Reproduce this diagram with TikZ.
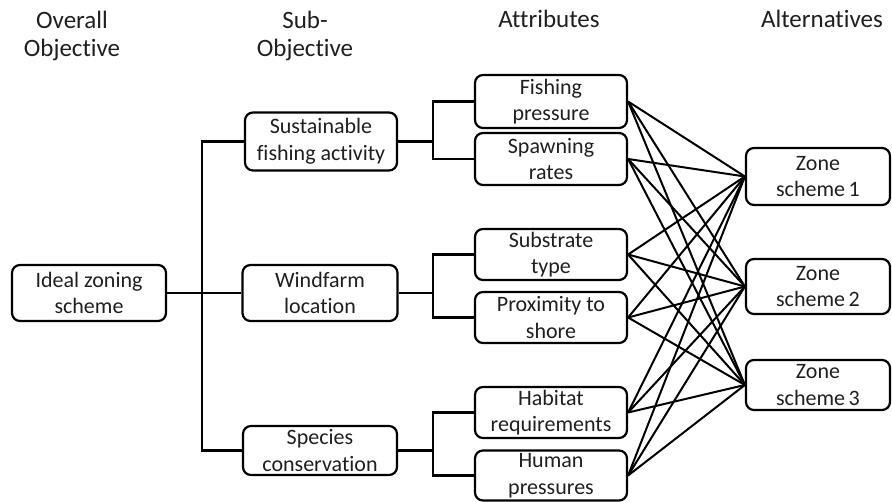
\documentclass[tikz,border=0pt]{standalone}
\usepackage{fontspec}
\setmainfont{Carlito}[Ligatures=NoCommon]
\begin{document}
\begin{tikzpicture}[x=1pt,y=-1pt,
  box/.style={draw=black,line width=2.2pt,rounded corners=8pt,align=center,
    font=\fontsize{22}{26.5}\selectfont,text=black!88,inner sep=0pt},
  head/.style={align=center,font=\fontsize{25}{28}\selectfont,text=black!88,anchor=base},
  link/.style={line width=2.2pt,black},
  fan/.style={line width=2pt,black}]
\useasboundingbox (0,0) rectangle (892,502);
% headers
\node[head] (h1) at (72,57) {Overall\\Objective};
\node[head] (h2) at (305,57) {Sub-\\Objective};
\node[head] (h3) at (549,28) {Attributes};
\node[head] (h4) at (822,28) {Alternatives};
% boxes
\node[box,minimum width=154pt,minimum height=56pt] (ideal) at (89,293) {Ideal zoning\\scheme};
\node[box,minimum width=152pt,minimum height=58pt] (sus) at (321,141.5) {Sustainable\\fishing activity};
\node[box,minimum width=155pt,minimum height=56pt] (wind) at (320,293) {Windfarm\\location};
\node[box,minimum width=154pt,minimum height=49pt] (spec) at (320,450.5) {Species\\conservation};
\node[box,minimum width=152pt,minimum height=53pt] (fish) at (551,101.5) {Fishing\\pressure};
\node[box,minimum width=152pt,minimum height=52pt] (spawn) at (551,159) {Spawning\\rates};
\node[box,minimum width=152pt,minimum height=51pt] (subs) at (551,254.5) {Substrate\\type};
\node[box,minimum width=152pt,minimum height=51pt] (prox) at (551,317.5) {Proximity to\\shore};
\node[box,minimum width=152pt,minimum height=51pt] (hab) at (551,412.5) {Habitat\\requirements};
\node[box,minimum width=152pt,minimum height=50pt] (hum) at (551,475.5) {Human\\pressures};
\node[box,minimum width=144pt,minimum height=57pt] (z1) at (818,176.5) {Zone\\scheme\,1};
\node[box,minimum width=144pt,minimum height=55pt] (z2) at (818,286.5) {Zone\\scheme\,2};
\node[box,minimum width=144pt,minimum height=50pt] (z3) at (818,385) {Zone\\scheme\,3};
% trunk
\coordinate (tx) at (202,0);
\coordinate (bx) at (433,0);
\draw[link] (sus.west) -- (sus.west -| tx) -- (spec.west -| tx) -- (spec.west);
\draw[link] (ideal.east) -- (wind.west);
% brackets
\draw[link] (sus.east) -- (sus.east -| bx);
\draw[link] (fish.west) -- (fish.west -| bx) -- (spawn.west -| bx) -- (spawn.west);
\draw[link] (wind.east) -- (wind.east -| bx);
\draw[link] (subs.west) -- (subs.west -| bx) -- (prox.west -| bx) -- (prox.west);
\draw[link] (spec.east) -- (spec.east -| bx);
\draw[link] (hab.west) -- (hab.west -| bx) -- (hum.west -| bx) -- (hum.west);
% fan
\foreach \a in {fish,spawn,subs,prox,hab,hum}{
  \foreach \z in {z1,z2,z3}{
    \draw[fan] (\a.east) -- (\z.west);
  }
}
\end{tikzpicture}
\end{document}
